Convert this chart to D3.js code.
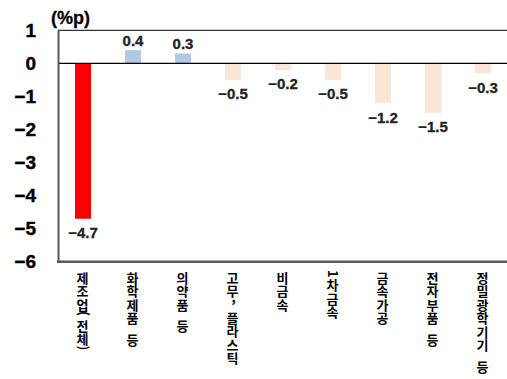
<!DOCTYPE html>
<html><head><meta charset="utf-8">
<script src="https://cdn.jsdelivr.net/npm/d3@7"></script>
<style>
body{margin:0;background:#fff;}
svg{display:block;}
</style></head>
<body><svg id="c" width="507" height="379"></svg>
<script>
const categories = ["제조업(전체)","화학제품 등","의약품 등","고무, 플라스틱","비금속","1차금속","금속가공","전자부품 등","정밀광학기기 등"];
const values = [-4.7, 0.4, 0.3, -0.5, -0.2, -0.5, -1.2, -1.5, -0.3];
const colors = ["#FF0000","#B4C7E7","#B4C7E7","#FBE5D6","#FBE5D6","#FBE5D6","#FBE5D6","#FBE5D6","#FBE5D6"];
const yTicks = [1,0,-1,-2,-3,-4,-5,-6];
const unitLabel = "(%p)";

const svg = d3.select("#c");
const mLeft = 58, mRight = 508, mTop = 30.3, mBottom = 261.7;
const x = d3.scaleBand().domain(categories).range([mLeft, mRight]).paddingInner(0.68).paddingOuter(0.34);
const y = d3.scaleLinear().domain([-6, 1]).range([mBottom, mTop]);
const fmt = v => (v < 0 ? "\u2212" : "") + Math.abs(v).toFixed(1);

svg.append("line").attr("x1", mLeft).attr("x2", 507).attr("y1", mTop).attr("y2", mTop)
  .attr("stroke", "#000").attr("stroke-width", 1);

svg.selectAll("rect.bar").data(values).enter().append("rect")
  .attr("x", (d,i) => x(categories[i]))
  .attr("width", x.bandwidth())
  .attr("y", d => y(Math.max(0, d)))
  .attr("height", d => Math.abs(y(d) - y(0)))
  .attr("fill", (d,i) => colors[i]);

svg.append("line").attr("x1", mLeft).attr("x2", 507).attr("y1", y(0)).attr("y2", y(0))
  .attr("stroke", "#000").attr("stroke-width", 1.2);

const yAxis = d3.axisLeft(y).tickValues(yTicks).tickSize(0).tickPadding(22).tickFormat(d => d < 0 ? "\u2212" + Math.abs(d) : d);
const gy = svg.append("g").attr("transform", `translate(${mLeft},0)`).call(yAxis);
gy.select(".domain").attr("stroke", "#595959").attr("stroke-width", 2);
gy.selectAll("text").attr("font-family", "Liberation Sans, Arial, sans-serif")
  .attr("font-weight", "bold").attr("font-size", 19).attr("fill", "#000").attr("text-anchor", "end")
  .attr("stroke", "#000").attr("stroke-width", 0.4);

svg.append("line").attr("x1", mLeft - 1).attr("x2", 507).attr("y1", mBottom).attr("y2", mBottom)
  .attr("stroke", "#595959").attr("stroke-width", 2.5);

svg.append("text").attr("x", 51).attr("y", 24).text(unitLabel)
  .attr("font-family", "Liberation Sans, Arial, sans-serif").attr("font-weight", "bold").attr("font-size", 18)
  .attr("stroke", "#000").attr("stroke-width", 0.3);

svg.selectAll("text.val").data(values).enter().append("text")
  .attr("x", (d,i) => x(categories[i]) + x.bandwidth()/2)
  .attr("y", d => d >= 0 ? y(d) - 4 : y(d) + 19.5)
  .attr("text-anchor", "middle")
  .attr("font-family", "Liberation Sans, Arial, sans-serif").attr("font-weight", "bold").attr("font-size", 15)
  .attr("fill", "#222").attr("stroke", "#222").attr("stroke-width", 0.3)
  .text(d => fmt(d));

// vertical category labels: one text per label, one tspan per character
const fs = 13;
categories.forEach(label => {
  const cx = x(label) + x.bandwidth()/2;
  const t = svg.append("text")
    .attr("font-family", "'Noto Sans CJK KR', sans-serif").attr("font-weight", "bold")
    .attr("font-size", fs).attr("fill", "#000").attr("text-anchor", "start");
  let yc = 271;
  for (const ch of label) {
    if (ch === " ") {
      t.append("tspan").attr("x", cx).attr("y", yc + 11).text(" ");
      yc += 8;
    } else if (ch === "(" || ch === ")") {
      t.append("tspan").attr("x", cx - 3.8).attr("y", yc - 0.5).attr("rotate", 90).text(ch);
      yc += 7.5;
    } else if (/[0-9]/.test(ch)) {
      t.append("tspan").attr("x", cx - 4.8).attr("y", yc - 1).attr("rotate", 90).text(ch);
      yc += 7.5;
    } else if (ch === ",") {
      t.append("tspan").attr("x", cx - 1.5).attr("y", yc + 3.5).text(ch);
      yc += 5;
    } else {
      t.append("tspan").attr("x", cx - fs/2).attr("y", yc + 11.5).text(ch);
      yc += 13.5;
    }
  }
});
</script></body></html>
